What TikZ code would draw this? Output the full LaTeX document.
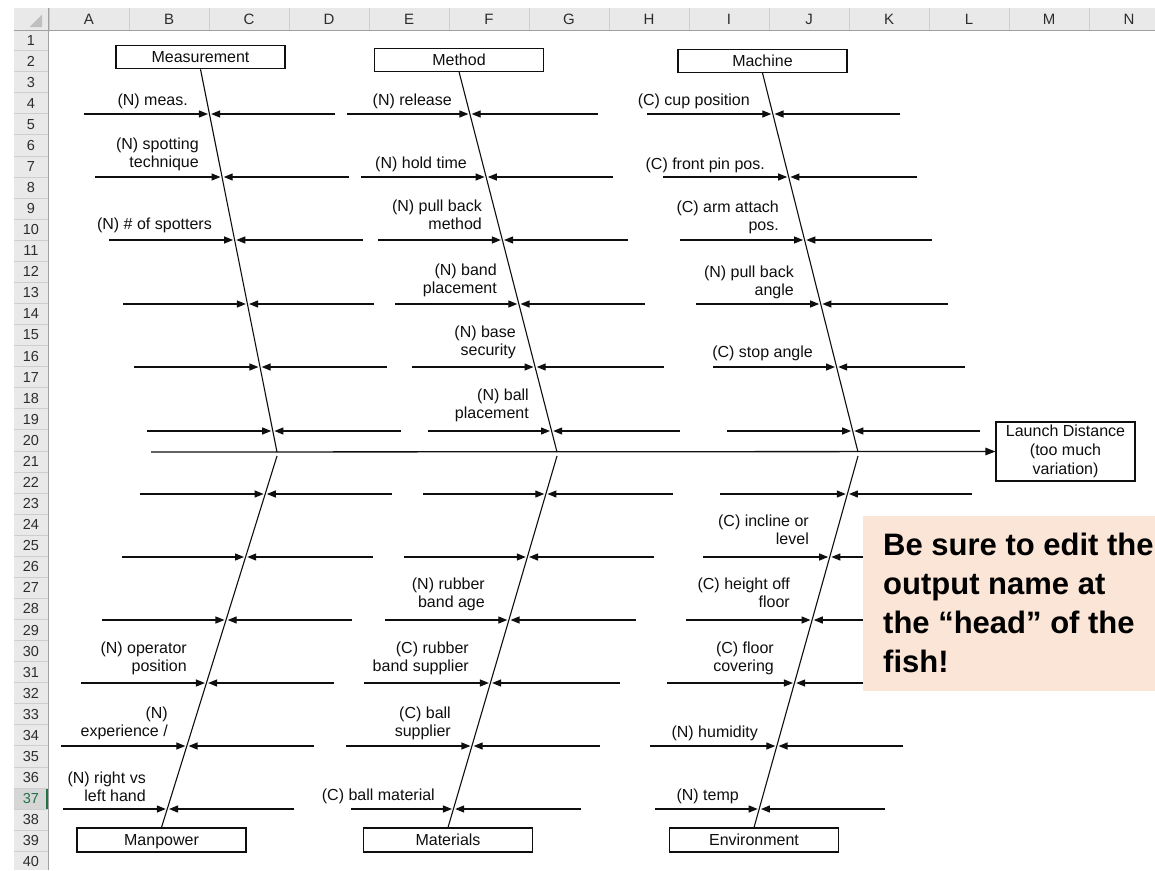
\documentclass[tikz,border=0pt]{standalone}
\usepackage{fontspec}
\setmainfont{Liberation Sans}
\usetikzlibrary{arrows.meta}
\definecolor{hdr}{RGB}{233,233,233}
\definecolor{hsep}{RGB}{206,206,206}
\definecolor{hline}{RGB}{160,160,160}
\definecolor{hdrtext}{RGB}{45,45,45}
\definecolor{selrow}{RGB}{214,214,214}
\definecolor{xlgreen}{RGB}{33,115,70}
\definecolor{peach}{RGB}{250,229,214}
\definecolor{ink}{RGB}{15,15,15}
\newcommand\twoline[2]{\begin{tabular}[b]{@{}r@{}}#1\\#2\end{tabular}}
\newcommand\setfishbone[4]{\def\fbxa{#1}\def\fbya{#2}\def\fbxb{#3}\def\fbyb{#4}}
\newcommand\fishrib[4]{%
  \pgfmathsetmacro\fbt{(#2-\fbya)/(\fbyb-\fbya)}%
  \pgfmathsetmacro\xbone{\fbxa+\fbt*(\fbxb-\fbxa)}%
  \coordinate (#1-l) at (#3,#2);
  \coordinate (#1-r) at (#4,#2);
  \coordinate (#1-a) at (\xbone-1.6,#2);
  \coordinate (#1-b) at (\xbone+1.6,#2);
  \draw[ribarrow] (#1-l) -- (#1-a);
  \draw[ribarrow] (#1-r) -- (#1-b);
}
\begin{document}
\begin{tikzpicture}[x=1pt,y=-1pt,
  lbl/.style={anchor=base east, inner sep=0pt, font=\fontsize{16}{18}\selectfont, text=ink},
  catbox/.style={draw=ink, line width=1.1pt, minimum width=169pt, inner sep=0pt,
    font=\fontsize{16}{18}\selectfont, text=ink, text height=11.5pt, text depth=0pt},
  bone/.style={draw=ink, line width=1.1pt},
  ribarrow/.style={draw=ink, line width=1.2pt, -{Triangle[length=9pt,width=7pt]}},
  spinearrow/.style={draw=ink, line width=1.3pt, -{Triangle[length=10pt,width=7.5pt]}},
  colhdr/.style={font=\fontsize{15}{16}\selectfont, text=hdrtext, inner sep=0pt},
  rowhdr/.style={font=\fontsize{14.5}{16}\selectfont, text=hdrtext, inner sep=0pt}]
\useasboundingbox (0,0) rectangle (1155,870);
\fill[white] (0,0) rectangle (1155,870);
% ---- spreadsheet headers
\fill[hdr] (14,8) rectangle (1155,30);
\fill[hdr] (14,30) rectangle (48.5,870);
\pgfmathsetmacro\rtop{29.5+21.07*36}
\pgfmathsetmacro\rbot{29.5+21.07*37}
\fill[selrow] (14,\rtop) rectangle (48.5,\rbot);
\fill[xlgreen] (46,\rtop) rectangle (48.8,\rbot);
\foreach \k in {0,...,13} \draw[hsep, line width=0.8pt] (49+80*\k,8) -- (49+80*\k,30);
\foreach \r in {1,...,40} \draw[hsep, line width=0.8pt] (14,29.5+21.07*\r) -- (48.5,29.5+21.07*\r);
\draw[hline, line width=0.9pt] (14,30) -- (1155,30);
\draw[hline, line width=0.9pt] (48.8,8) -- (48.8,870);
\fill[black!25] (42,14.5) -- (42,27) -- (29.5,27) -- cycle;
\foreach \L [count=\i from 0] in {A,B,C,D,E,F,G,H,I,J,K,L,M,N}
  \node[colhdr] (col-\L) at (89+80*\i,19.5) {\L};
\foreach \r in {1,...,36,38,39,40}
  \node[rowhdr] (row-\r) at (31,29.5+21.07*\r-10.5) {\r};
\node[rowhdr, text=xlgreen] (row-37) at (31,29.5+21.07*37-10.5) {37};
% ---- category boxes and effect
\node[catbox, minimum height=23pt] (meas) at (200.5,57.2) {Measurement};
\node[catbox, minimum height=23pt] (meth) at (459,59.7) {Method};
\node[catbox, minimum height=23pt] (mach) at (762.5,61) {Machine};
\node[catbox, minimum height=24pt] (manp) at (161.5,840) {Manpower};
\node[catbox, minimum height=24pt] (matl) at (448,840) {Materials};
\node[catbox, minimum height=24pt] (envi) at (754,840) {Environment};
\node[draw=ink, line width=1.1pt, minimum width=139pt, minimum height=59pt, inner sep=0pt,
  font=\fontsize{16}{19}\selectfont, text=ink] (goal) at (1065.5,451.5)
  {\begin{tabular}{@{}c@{}}Launch Distance\\(too much\\variation)\end{tabular}};
% ---- spine and bones
\coordinate (tail) at (151,452);
\coordinate (j1) at (277,452);
\coordinate (j2) at (557,452);
\coordinate (j3) at (858,452);
\coordinate (k1) at (277,456);
\coordinate (k2) at (557,456);
\coordinate (k3) at (858,456);
\draw[spinearrow] (tail) -- (goal.west);
\draw[bone] (meas.south) -- (j1);
\draw[bone] (meth.south) -- (j2);
\draw[bone] (mach.south) -- (j3);
\draw[bone] (k1) -- (manp.north);
\draw[bone] (k2) -- (matl.north);
\draw[bone] (k3) -- (envi.north);
% ---- ribs
\setfishbone{200.5}{68.7}{277}{452}
\fishrib{m1}{114}{84}{335}
\fishrib{m2}{177}{95}{349}
\fishrib{m3}{240}{109}{363}
\fishrib{m4}{304}{123}{374}
\fishrib{m5}{367}{134}{387}
\fishrib{m6}{431}{147}{401}
\setfishbone{459}{71.2}{557}{452}
\fishrib{t1}{114}{347}{598}
\fishrib{t2}{177}{361}{613}
\fishrib{t3}{240}{378}{628}
\fishrib{t4}{304}{395}{645}
\fishrib{t5}{367}{412}{664}
\fishrib{t6}{431}{428}{680}
\setfishbone{762.5}{72.5}{858}{452}
\fishrib{c1}{114}{647}{900}
\fishrib{c2}{177}{663}{917}
\fishrib{c3}{240}{680}{932}
\fishrib{c4}{304}{696}{948}
\fishrib{c5}{367}{713}{965}
\fishrib{c6}{431}{727}{980}
\setfishbone{277}{456}{161.5}{828}
\fishrib{p1}{494}{140}{392}
\fishrib{p2}{557}{122}{373}
\fishrib{p3}{620}{102}{352}
\fishrib{p4}{683}{81}{334}
\fishrib{p5}{746}{61}{314}
\fishrib{p6}{809}{63}{294}
\setfishbone{557}{456}{448}{828}
\fishrib{a1}{494}{423}{673}
\fishrib{a2}{557}{404}{654}
\fishrib{a3}{620}{385}{636}
\fishrib{a4}{683}{364}{620}
\fishrib{a5}{746}{346}{600}
\fishrib{a6}{809}{351}{581}
\setfishbone{858}{456}{754}{828}
\fishrib{e1}{494}{720}{972}
\fishrib{e2}{557}{703}{960}
\fishrib{e3}{620}{686}{942}
\fishrib{e4}{683}{667}{925}
\fishrib{e5}{746}{650}{903}
\fishrib{e6}{809}{655}{885}
% ---- labels
\node[lbl] (lm1) at (188,105) {(N) meas.};
\node[lbl] (lm2) at (199,167) {\twoline{(N) spotting}{technique}};
\node[lbl] (lm3) at (212,229) {(N) \# of spotters};
\node[lbl] (lt1) at (452,105) {(N) release};
\node[lbl] (lt2) at (467,168) {(N) hold time};
\node[lbl] (lt3) at (482,229) {\twoline{(N) pull back}{method}};
\node[lbl] (lt4) at (497,293) {\twoline{(N) band}{placement}};
\node[lbl] (lt5) at (516,355) {\twoline{(N) base}{security}};
\node[lbl] (lt6) at (529,418) {\twoline{(N) ball}{placement}};
\node[lbl] (lc1) at (750,105) {(C) cup position};
\node[lbl] (lc2) at (765,169) {(C) front pin pos.};
\node[lbl] (lc3) at (779,230) {\twoline{(C) arm attach}{pos.}};
\node[lbl] (lc4) at (794,295) {\twoline{(N) pull back}{angle}};
\node[lbl] (lc5) at (813,357) {(C) stop angle};
\node[lbl] (lp4) at (187,671) {\twoline{(N) operator}{position}};
\node[lbl] (lp5) at (168,736) {\twoline{(N)}{experience /}};
\node[lbl] (lp6) at (146,801) {\twoline{(N) right vs}{left hand}};
\node[lbl] (la3) at (485,607) {\twoline{(N) rubber}{band age}};
\node[lbl] (la4) at (469,671) {\twoline{(C) rubber}{band supplier}};
\node[lbl] (la5) at (451,736) {\twoline{(C) ball}{supplier}};
\node[lbl] (la6) at (435,800) {(C) ball material};
\node[lbl] (le2) at (809,544) {\twoline{(C) incline or}{level}};
\node[lbl] (le3) at (790,607) {\twoline{(C) height off}{floor}};
\node[lbl] (le4) at (774,671) {\twoline{(C) floor}{covering}};
\node[lbl] (le5) at (758,737) {(N) humidity};
\node[lbl] (le6) at (739,800) {(N) temp};
% ---- callout
\fill[peach] (863,516) rectangle (1170,691);
\node[anchor=base west, inner sep=0pt, text=black,
  font=\bfseries\fontsize{31}{39.3}\selectfont] (note) at (883,555)
  {\begin{tabular}[t]{@{}l@{}}Be sure to edit the\\output name at\\the “head” of the\\fish!\end{tabular}};
\end{tikzpicture}
\end{document}
